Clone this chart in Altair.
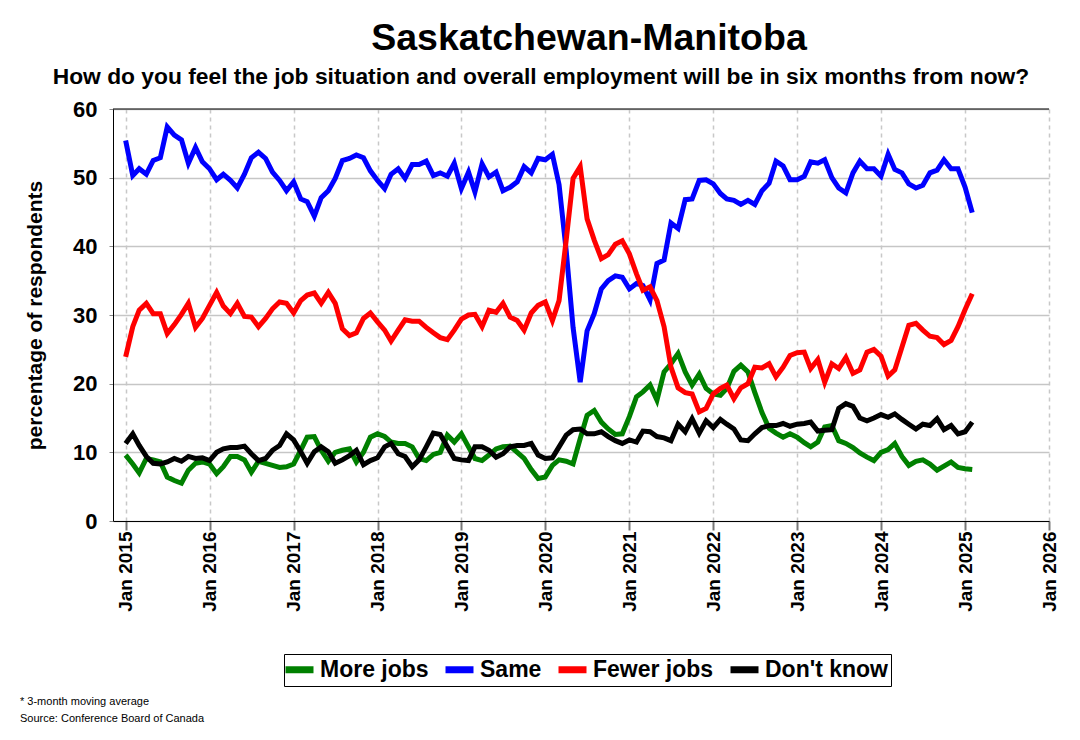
import altair as alt
import pandas as pd

TITLE = "Saskatchewan-Manitoba"
SUBTITLE = "How do you feel the job situation and overall employment will be in six months from now?"
NOTE1 = "* 3-month moving average"
NOTE2 = "Source: Conference Board of Canada"

SERIES = ["More jobs", "Same", "Fewer jobs", "Don't know"]
COLORS = ["#008000", "#0000ff", "#ff0000", "#000000"]

START = "2015-01-01"
N_MONTHS = 122

more_jobs = [
    9.6, 8.3, 7.0, 9.1, 8.9, 8.6, 6.4, 5.9, 5.5, 7.4, 8.4, 8.6,
    8.3, 6.9, 7.9, 9.4, 9.4, 8.9, 7.1, 8.7, 8.4, 8.1, 7.8, 7.9,
    8.3, 10.3, 12.2, 12.3, 10.3, 8.7, 10.0, 10.3, 10.5, 8.6, 10.0, 12.2,
    12.7, 12.3, 11.5, 11.3, 11.3, 10.8, 9.1, 8.8, 9.7, 10.0, 12.5, 11.5,
    12.7, 10.8, 9.1, 8.8, 9.6, 10.5, 10.8, 10.9, 10.0, 9.1, 7.5, 6.2,
    6.4, 8.1, 8.9, 8.7, 8.3, 12.0, 15.4, 16.1, 14.4, 13.4, 12.6, 12.7,
    15.2, 18.1, 18.8, 19.8, 17.6, 21.7, 22.9, 24.4, 21.7, 19.8, 21.4, 19.3,
    18.5, 18.3, 19.3, 21.8, 22.7, 21.7, 18.7, 15.8, 13.5, 12.8, 12.2, 12.7,
    12.2, 11.4, 10.8, 11.5, 13.7, 13.9, 11.7, 11.3, 10.7, 9.9, 9.3, 8.8,
    10.0, 10.4, 11.3, 9.4, 8.1, 8.7, 8.9, 8.3, 7.4, 8.0, 8.6, 7.8,
    7.6, 7.5,
]

same = [
    55.4, 50.3, 51.3, 50.5, 52.5, 52.9, 57.4, 56.2, 55.5, 52.1, 54.4, 52.3,
    51.3, 49.7, 50.5, 49.6, 48.5, 50.5, 52.9, 53.7, 52.8, 50.8, 49.6, 48.1,
    49.4, 46.9, 46.5, 44.4, 47.1, 48.1, 49.9, 52.5, 52.8, 53.3, 52.9, 51.0,
    49.6, 48.4, 50.5, 51.3, 49.9, 51.9, 51.9, 52.4, 50.3, 50.7, 50.2, 52.1,
    48.4, 50.8, 47.9, 52.0, 50.1, 50.8, 48.1, 48.6, 49.4, 51.6, 50.7, 52.8,
    52.6, 53.4, 49.0, 39.4, 28.2, 20.2, 27.7, 30.2, 33.8, 35.0, 35.7, 35.5,
    33.8, 34.6, 34.3, 32.2, 37.5, 38.0, 43.4, 42.6, 46.8, 46.9, 49.6, 49.7,
    49.1, 47.7, 46.9, 46.7, 46.1, 46.7, 46.1, 48.1, 49.2, 52.4, 51.7, 49.7,
    49.7, 50.2, 52.3, 52.1, 52.6, 50.0, 48.5, 47.8, 50.7, 52.4, 51.3, 51.3,
    50.2, 53.4, 51.2, 50.7, 49.1, 48.5, 48.9, 50.7, 51.1, 52.6, 51.3, 51.3,
    48.6, 44.9,
]

fewer_jobs = [
    23.9, 28.3, 30.7, 31.7, 30.2, 30.2, 27.3, 28.6, 30.1, 31.7, 28.2, 29.5,
    31.4, 33.3, 31.3, 30.2, 31.7, 29.8, 29.7, 28.3, 29.5, 30.9, 31.9, 31.7,
    30.3, 32.1, 32.9, 33.2, 31.7, 33.3, 31.7, 28.0, 27.0, 27.4, 29.5, 30.3,
    29.0, 27.8, 26.2, 27.8, 29.3, 29.1, 29.1, 28.2, 27.4, 26.7, 26.4, 27.8,
    29.4, 30.0, 30.1, 28.3, 30.7, 30.4, 31.7, 29.7, 29.2, 27.8, 30.3, 31.4,
    31.9, 29.2, 32.1, 40.9, 49.9, 51.6, 44.0, 40.9, 38.2, 38.8, 40.3, 40.8,
    38.9, 36.0, 33.6, 34.1, 32.1, 28.3, 22.4, 19.4, 18.7, 18.5, 15.9, 16.4,
    18.5, 19.3, 19.8, 17.8, 19.4, 20.0, 22.4, 22.3, 22.9, 21.0, 22.4, 24.1,
    24.5, 24.6, 22.2, 23.5, 20.2, 22.9, 22.2, 23.8, 21.5, 22.0, 24.6, 25.0,
    24.0, 21.1, 22.0, 25.3, 28.5, 28.8, 27.8, 26.9, 26.7, 25.7, 26.3, 28.3,
    30.8, 33.1,
]

dont_know = [
    11.3, 12.7, 11.0, 9.4, 8.4, 8.3, 8.6, 9.1, 8.7, 9.4, 9.1, 9.2,
    8.8, 10.0, 10.5, 10.7, 10.7, 10.9, 9.8, 8.8, 9.1, 10.3, 11.0, 12.7,
    11.8, 10.1, 8.4, 10.1, 10.8, 10.1, 8.4, 8.9, 9.5, 10.3, 8.2, 8.8,
    9.2, 10.8, 11.3, 9.8, 9.4, 7.9, 8.9, 10.8, 12.8, 12.6, 10.8, 9.1,
    8.9, 8.8, 10.8, 10.8, 10.3, 9.3, 9.8, 10.8, 11.0, 11.0, 11.3, 9.6,
    9.1, 9.2, 10.8, 12.5, 13.3, 13.4, 12.7, 12.7, 13.0, 12.3, 11.7, 11.3,
    11.8, 11.5, 13.1, 13.0, 12.3, 12.1, 11.7, 14.1, 13.0, 14.9, 12.8, 14.6,
    13.6, 14.8, 14.1, 13.4, 11.8, 11.7, 12.7, 13.6, 13.9, 13.9, 14.2, 13.8,
    14.1, 14.2, 14.4, 13.1, 13.2, 13.3, 16.4, 17.1, 16.7, 15.0, 14.6, 15.0,
    15.5, 15.1, 15.6, 14.8, 14.1, 13.4, 14.1, 13.9, 14.9, 13.3, 13.9, 12.7,
    13.0, 14.4,
]

YEARS = list(range(2015, 2027))
Y_TICKS = [0, 10, 20, 30, 40, 50, 60]

FONT = "Liberation Sans, Arial, Helvetica, sans-serif"

dates = pd.date_range(START, periods=N_MONTHS, freq="MS")
frames = []
for name, vals in zip(SERIES, [more_jobs, same, fewer_jobs, dont_know]):
    frames.append(pd.DataFrame({"date": dates, "value": vals, "series": name}))
df = pd.concat(frames, ignore_index=True)

x_enc = alt.X(
    "date:T",
    scale=alt.Scale(
        domain=[alt.DateTime(year=2014, month=11, date=7),
                alt.DateTime(year=2026, month=1, date=1)],
        nice=False,
    ),
    axis=alt.Axis(
        values=[alt.DateTime(year=y, month=1, date=1) for y in YEARS],
        format="%b %Y",
        labelAngle=-90,
        labelFont=FONT,
        labelFontSize=19,
        labelFontWeight="bold",
        labelColor="black",
        labelPadding=1,
        tickSize=9,
        tickWidth=2,
        tickColor="#777777",
        domainColor="black",
        domainWidth=1,
        grid=True,
        gridColor="#c8c8c8",
        gridWidth=1.5,
        gridDash=[4, 4],
        labelOverlap=False,
        labelFlush=False,
    ),
    title=None,
)

y_enc = alt.Y(
    "value:Q",
    scale=alt.Scale(domain=[0, 60], nice=False),
    axis=alt.Axis(
        values=Y_TICKS,
        title="percentage of respondents",
        titleFont=FONT,
        titleFontSize=21,
        titleFontWeight="bold",
        titleColor="black",
        titlePadding=27,
        labelFont=FONT,
        labelFontSize=22,
        labelFontWeight="bold",
        labelColor="black",
        labelPadding=12,
        tickSize=4,
        tickColor="#888888",
        domainColor="black",
        domainWidth=1,
        grid=True,
        gridColor="#c6c6c6",
        gridWidth=1.5,
    ),
)

color_enc = alt.Color(
    "series:N",
    scale=alt.Scale(domain=SERIES, range=COLORS),
    legend=alt.Legend(
        orient="none",
        legendX=171,
        legendY=545,
        direction="horizontal",
        title=None,
        labelFont=FONT,
        labelFontSize=23,
        labelFontWeight="bold",
        labelColor="black",
        labelLimit=400,
        labelOffset=7,
        columnPadding=2,
        symbolType="M-1.4,0L1.4,0",
        symbolSize=400,
        symbolStrokeWidth=7,
        strokeColor="black",
        fillColor="white",
        padding=2,
    ),
)

base = alt.Chart(df)
layers = []
for name in SERIES:
    layers.append(
        base.transform_filter(alt.datum.series == name)
        .mark_line(strokeWidth=5, clip=True)
        .encode(x=x_enc, y=y_enc, color=color_enc)
    )

# top frame line of the plot area
frame_top = alt.Chart(pd.DataFrame({"k": [0]})).mark_rule(
    color="black", strokeWidth=1
).encode(x=alt.value(0), x2=alt.value(936), y=alt.value(0))

def text_layer(txt, x, y, size, weight, align="center", baseline="alphabetic"):
    return alt.Chart(pd.DataFrame({"t": [txt]})).mark_text(
        font=FONT, fontSize=size, fontWeight=weight, color="black",
        align=align, baseline=baseline,
    ).encode(x=alt.value(x), y=alt.value(y), text="t:N")

texts = [
    text_layer(TITLE, 476, -59, 37.5, "bold"),
    text_layer(SUBTITLE, 428, -25, 22.8, "bold"),
    text_layer(NOTE1, -93, 593, 11, "normal", align="left", baseline="middle"),
    text_layer(NOTE2, -93, 610, 11, "normal", align="left", baseline="middle"),
]

chart = alt.layer(*layers, frame_top, *texts).properties(
    width=936,
    height=412,
    autosize=alt.AutoSizeParams(type="none"),
    padding={"left": 105, "top": 101, "right": 20, "bottom": 205},
    background="white",
).configure_view(
    strokeWidth=0,
)

chart.save("out.html", embed_options={"renderer": "svg", "actions": False})
